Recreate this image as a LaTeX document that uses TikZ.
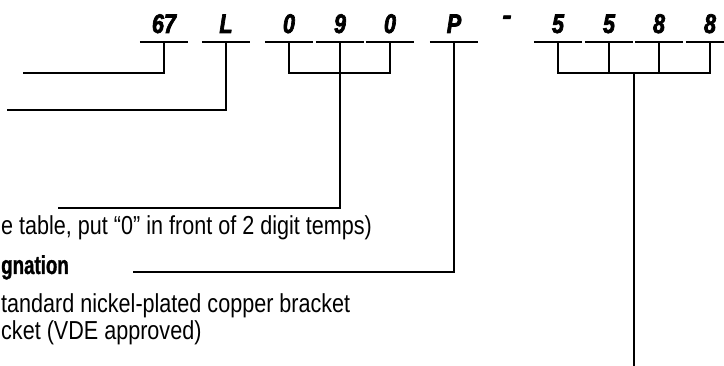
\documentclass[tikz,border=0pt]{standalone}
\usepackage{fontspec}
\setmainfont{Liberation Sans}[FakeStretch=0.83]
\newfontfamily\codefont{Liberation Sans}[FakeStretch=0.8, FakeBold=2.5]
\newfontfamily\boldcond{Liberation Sans Bold}[FakeStretch=0.72, FakeBold=1]
\usetikzlibrary{calc}
\begin{document}
\begin{tikzpicture}[x=1pt, y=-1pt, line width=2.4pt, line join=miter,
		code/.style={font=\codefont\bfseries\itshape\fontsize{27}{27}\selectfont, inner sep=0pt, minimum width=46pt, anchor=base},
		desc/.style={font=\fontsize{26}{30}\selectfont, inner sep=0pt, anchor=base west}]
	\useasboundingbox (0,0) rectangle (724,366);
	% code characters
	\node[code] (c67) at (164,33) {67};
	\node[code] (cL) at (226,33) {L};
	\node[code] (c0a) at (289,33) {0};
	\node[code] (c9) at (340,33) {9};
	\node[code] (c0b) at (390,33) {0};
	\node[code] (cP) at (454,33) {P};
	\node[code, minimum width=0pt, anchor=center, xscale=1.25] (dash) at (507,20) {-};
	\node[code] (c5a) at (558,33) {5};
	\node[code] (c5b) at (609,33) {5};
	\node[code] (c8a) at (659,33) {8};
	\node[code] (c8b) at (710,33) {8};
	% descriptions
	\node[desc] (ttemp) at (0,235) {e table, put “0” in front of 2 digit temps)};
	\node[desc, font=\boldcond\fontsize{26}{30}\selectfont] (tdes) at (0,274) {gnation};
	\node[desc] (tstd) at (0,313) {tandard nickel-plated copper bracket};
	\node[desc] (tvde) at (0,340) {cket (VDE approved)};
	% free ends
	\coordinate (e67) at (23,73);
	\coordinate (eL) at (7,110);
	\coordinate (e9) at (58,208);
	\coordinate (eP) at (133,272);
	\coordinate (e5) at (634,366);
	% underlines
	\foreach \n in {c67,cL,c0a,c9,c0b,cP,c5a,c5b,c8a,c8b}
		\draw ([yshift=-9pt]\n.base west) -- ([yshift=-9pt]\n.base east);
	% leaders
	\draw ([yshift=-9pt]c67.base) |- (e67);
	\draw ([yshift=-9pt]cL.base) |- (eL);
	\draw ([yshift=-9pt]c0a.base) -- ++(0,31) -| ([yshift=-9pt]c0b.base);
	\draw ([yshift=-9pt]c9.base) |- (e9);
	\draw ([yshift=-9pt]cP.base) |- (eP);
	\draw ([yshift=-9pt]c5a.base) -- ++(0,31) -| ([yshift=-9pt]c8b.base);
	\draw ([yshift=-9pt]c5b.base) -- ++(0,31);
	\draw ([yshift=-9pt]c8a.base) -- ++(0,31);
	\draw ($(c5a.base)!.5!(c8b.base)+(0,40)$) -- (e5);
\end{tikzpicture}
\end{document}
